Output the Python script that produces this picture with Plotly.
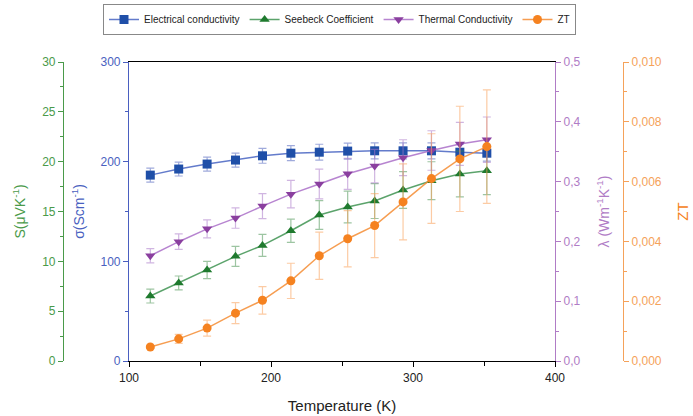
import plotly.graph_objects as go

temperature = [115, 135, 155, 175, 194, 214, 234, 254, 273, 293, 313, 333, 352]
sigma = [186.5, 192.6, 197.6, 201.6, 205.9, 208.5, 209.5, 210.6, 210.9, 210.9, 210.9, 209.5, 208.5]
sigma_err = [7, 7, 7, 7, 7.5, 7.5, 8, 8, 8, 8, 8, 8, 8]
seebeck = [6.52, 7.83, 9.13, 10.5, 11.6, 13.07, 14.65, 15.45, 16.05, 17.16, 18.09, 18.76, 19.09]
seebeck_err = [0.7, 0.7, 0.87, 1.0, 1.1, 1.17, 1.45, 1.6, 1.75, 1.85, 1.9, 2.3, 2.4]
thermal = [0.176, 0.1995, 0.221, 0.239, 0.259, 0.279, 0.296, 0.313, 0.326, 0.340, 0.352, 0.363, 0.370]
thermal_err = [0.012, 0.013, 0.015, 0.017, 0.021, 0.023, 0.025, 0.026, 0.028, 0.03, 0.033, 0.036, 0.038]
zt = [0.00047, 0.00074, 0.0011, 0.0016, 0.00203, 0.00268, 0.00352, 0.00409, 0.00453, 0.00532, 0.0061, 0.00676, 0.00717]
zt_err = [0.00005, 0.00015, 0.00027, 0.00035, 0.00046, 0.00059, 0.00079, 0.00094, 0.00107, 0.00127, 0.0015, 0.00176, 0.0019]

x_ticks = [100, 200, 300, 400]

BLUE = "#1f4fa8"; BLUE_AX = "#4a5fc0"
GREEN = "#1f7a2e"; GREEN_AX = "#4a9a4a"
PURPLE = "#8a3f9f"; PURPLE_AX = "#b07cc6"
ORANGE = "#f58220"; ORANGE_AX = "#f5a25a"

FONT = "Liberation Sans, Arial, sans-serif"

fig = go.Figure()

def add(name, y, err, color, line_color, err_color, symbol, yaxis):
    fig.add_trace(go.Scatter(
        x=temperature, y=y, name=name, yaxis=yaxis, mode="lines+markers",
        line=dict(color=line_color, width=1.5),
        marker=dict(color=color, symbol=symbol, size=9),
        error_y=dict(type="data", array=err, visible=True, color=err_color, thickness=1.2, width=4),
    ))

add("Electrical conductivity", sigma, sigma_err, BLUE, "rgba(60,90,190,0.8)", "rgba(80,100,190,0.55)", "square", "y")
add("Seebeck Coefficient", seebeck, seebeck_err, GREEN, "rgba(50,140,70,0.8)", "rgba(60,140,70,0.5)", "triangle-up", "y2")
add("Thermal Conductivity", thermal, thermal_err, PURPLE, "rgba(170,110,200,0.85)", "rgba(170,120,200,0.55)", "triangle-down", "y3")
add("ZT", zt, zt_err, ORANGE, "rgba(245,140,50,0.85)", "rgba(250,160,90,0.55)", "circle", "y4")

W, H = 693, 416
x0, x1 = 129, 555
top, bottom = 62, 361

tickfont = lambda c: dict(family=FONT, size=12, color=c)

fig.update_layout(
    width=W, height=H,
    margin=dict(l=0, r=0, t=top, b=H - bottom, autoexpand=False),
    paper_bgcolor="white", plot_bgcolor="white",
    separators=",.",
    font=dict(family=FONT),
    showlegend=True,
    legend=dict(orientation="h", x=103 / W, y=1 + (top - 4) / (bottom - top), xanchor="left", yanchor="top",
                bordercolor="#888888", borderwidth=1, font=dict(family=FONT, size=10, color="#222"),
                itemwidth=30, tracegroupgap=0, bgcolor="white"),
    xaxis=dict(domain=[x0 / W, x1 / W], range=[100, 400], tickvals=x_ticks, showline=True, linecolor="black",
               linewidth=1.2, mirror=True, ticks="outside", ticklen=5, tickcolor="black", showgrid=False, zeroline=False,
               automargin=False,
               tickfont=dict(family=FONT, size=12, color="#222"),
               minor=dict(dtick=50, ticks="outside", ticklen=4, tickcolor="black"),
               title=dict(text="Temperature (K)", font=dict(family=FONT, size=15, color="#222"), standoff=16)),
    yaxis=dict(range=[0, 300], dtick=100, showline=True, linecolor=BLUE_AX, linewidth=1.2, ticks="outside",
               ticklen=5, tickcolor=BLUE_AX, showgrid=False, zeroline=False, tickfont=tickfont(BLUE_AX),
               automargin=False,
               minor=dict(dtick=50, ticks="outside", ticklen=3, tickcolor=BLUE_AX),
               title=dict(text="σ(Scm<sup>-1</sup>)", font=dict(family=FONT, size=14, color=BLUE_AX), standoff=12)),
    yaxis2=dict(range=[0, 30], dtick=5, overlaying="y", anchor="free", position=63 / W, side="left",
                showline=True, linecolor=GREEN_AX, linewidth=1.2, ticks="outside", ticklen=5, tickcolor=GREEN_AX,
                showgrid=False, zeroline=False, tickfont=tickfont(GREEN_AX), automargin=False,
                minor=dict(dtick=2.5, ticks="outside", ticklen=3, tickcolor=GREEN_AX),
                title=dict(text="S(μVK<sup>-1</sup>)", font=dict(family=FONT, size=14, color=GREEN_AX), standoff=12)),
    yaxis3=dict(range=[0, 0.5], dtick=0.1, tickformat=".1f", overlaying="y", anchor="x", side="right",
                showline=True, linecolor=PURPLE_AX, linewidth=1.2, ticks="outside", ticklen=5, tickcolor=PURPLE_AX,
                showgrid=False, zeroline=False, tickfont=tickfont(PURPLE_AX), automargin=False,
                minor=dict(dtick=0.05, ticks="outside", ticklen=3, tickcolor=PURPLE_AX),
                title=dict(text="λ (Wm<sup>-1</sup>K<sup>-1</sup>)", font=dict(family=FONT, size=14, color=PURPLE_AX), standoff=19)),
    yaxis4=dict(range=[0, 0.01], dtick=0.002, tickformat=".3f", overlaying="y", anchor="free", position=623 / W,
                side="right", showline=True, linecolor=ORANGE_AX, linewidth=1.2, ticks="outside", ticklen=5,
                tickcolor=ORANGE_AX, showgrid=False, zeroline=False, tickfont=tickfont(ORANGE_AX), automargin=False,
                minor=dict(dtick=0.001, ticks="outside", ticklen=3, tickcolor=ORANGE_AX),
                title=dict(text="ZT", font=dict(family=FONT, size=15, color=ORANGE), standoff=16)),
)

fig.write_html("out.html", config={"displayModeBar": False},
               post_script="document.body.style.margin='0';")
